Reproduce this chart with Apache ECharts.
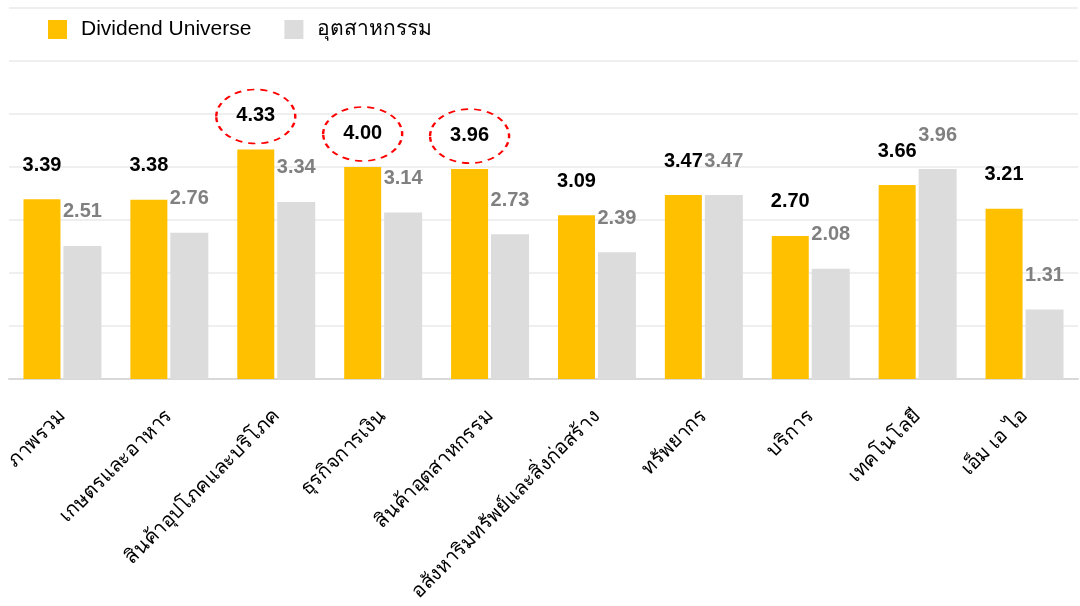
<!DOCTYPE html>
<html><head><meta charset="utf-8">
<script src="https://cdn.jsdelivr.net/npm/echarts@6/dist/echarts.min.js"></script>
<style>html,body{margin:0;padding:0;background:#fff}#c{width:1080px;height:606px}</style>
</head><body><div id="c"></div>
<script>
const categories = ['ภาพรวม','เกษตรและอาหาร','สินค้าอุปโภคและบริโภค','ธุรกิจการเงิน','สินค้าอุตสาหกรรม','อสังหาริมทรัพย์และสิ่งก่อสร้าง','ทรัพยากร','บริการ','เทคโนโลยี','เอ็ม เอ ไอ'];
const dividendUniverse = [3.39,3.38,4.33,4.00,3.96,3.09,3.47,2.70,3.66,3.21];
const industry = [2.51,2.76,3.34,3.14,2.73,2.39,3.47,2.08,3.96,1.31];
const highlighted = [2,3,4];
const seriesNames = ['Dividend Universe','อุตสาหกรรม'];

const chart = echarts.init(document.getElementById('c'));
const ellipse = 'path://M0,50 A50,50 0 1,1 100,50 A50,50 0 1,1 0,50 Z';
chart.setOption({
  animation:false,
  textStyle:{fontFamily:'Liberation Sans, Arial, sans-serif'},
  legend:{left:43,top:14,itemWidth:19,itemHeight:19,itemGap:33,icon:'rect',
    textStyle:{fontSize:21,color:'#000',padding:[0,0,0,9],fontFamily:'Liberation Sans, Arial, sans-serif'},
    data:seriesNames},
  grid:{left:9,right:2,top:8,bottom:227,containLabel:false},
  xAxis:{type:'category',data:categories,
    axisLine:{lineStyle:{color:'#d9d9d9',width:2}},axisTick:{show:false},
    axisLabel:{rotate:45,fontSize:20,color:'#000',interval:0,margin:34,fontFamily:'Tahoma, sans-serif'}},
  yAxis:{type:'value',min:0,max:7,interval:1,axisLabel:{show:false},axisLine:{show:false},axisTick:{show:false},
    splitLine:{lineStyle:{color:'#efefef',width:2}}},
  series:[
    {name:seriesNames[0],type:'bar',data:dividendUniverse,barWidth:37,barGap:'8%',
     itemStyle:{color:'#FFC000'},
     label:{show:true,position:'top',distance:24,formatter:p=>p.value.toFixed(2),fontSize:20,fontWeight:'bold',color:'#000'},
     markPoint:{symbol:ellipse,symbolSize:[79,54],symbolOffset:[0,-33],silent:true,
       itemStyle:{color:'rgba(0,0,0,0)',borderColor:'#FF0000',borderWidth:2,borderType:[6,5]},
       label:{show:false},
       data:highlighted.map(i=>({coord:[i,dividendUniverse[i]]}))}},
    {name:seriesNames[1],type:'bar',data:industry,barWidth:38,
     itemStyle:{color:'#DCDCDC'},
     label:{show:true,position:'top',distance:24,formatter:p=>p.value.toFixed(2),fontSize:20,fontWeight:'bold',color:'#808080'}}
  ]
});
</script></body></html>
